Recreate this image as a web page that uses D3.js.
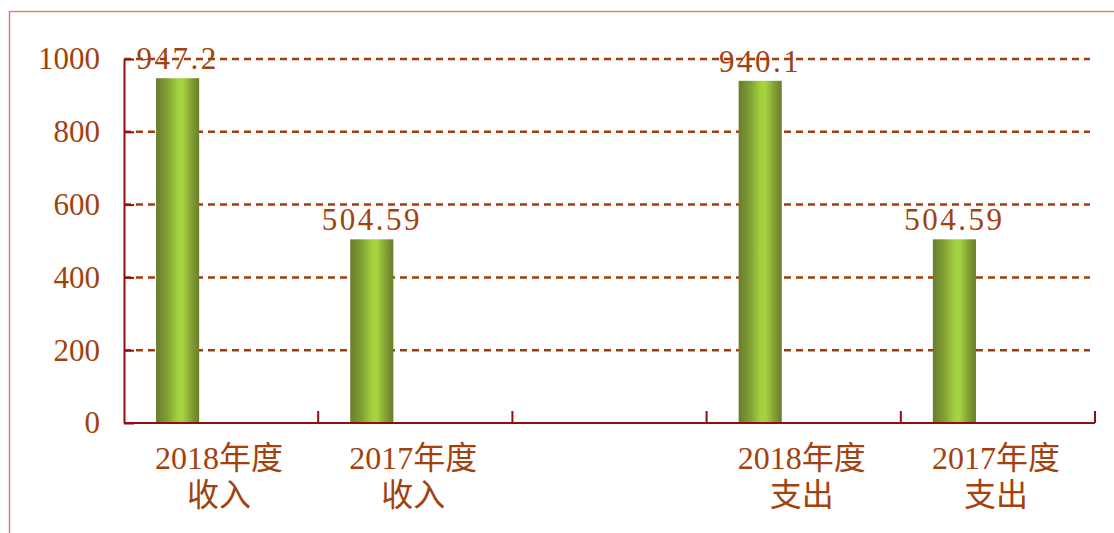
<!DOCTYPE html>
<html>
<head>
<meta charset="utf-8">
<script src="https://cdn.jsdelivr.net/npm/d3@7"></script>
<style>
  body { margin: 0; background: #fff; }
  svg { display: block; }
</style>
</head>
<body>
<div id="chart"></div>
<script>
// data
const categories = ["2018年度\n收入", "2017年度\n收入", "", "2018年度\n支出", "2017年度\n支出"];
const values = [947.2, 504.59, null, 940.1, 504.59];
const yTicks = [0, 200, 400, 600, 800, 1000];

const width = 1114, height = 533;
const margin = { top: 59, right: 19, bottom: 110, left: 124 };
const textColor = "#a3410d";
const axisColor = "#8e0f0f";
const serif = "'Liberation Serif', 'Times New Roman', 'Noto Sans CJK SC', serif";

const svg = d3.select("#chart").append("svg")
  .attr("width", width)
  .attr("height", height);

// outer frame
svg.append("rect")
  .attr("x", 9.5).attr("y", 11.5)
  .attr("width", 1300).attr("height", 700)
  .attr("fill", "none")
  .attr("stroke", "#c98b6f")
  .attr("stroke-width", 1.5);

const x = d3.scaleBand()
  .domain(d3.range(categories.length))
  .range([margin.left, width - margin.right]);

const y = d3.scaleLinear()
  .domain([0, 1000])
  .range([height - margin.bottom, margin.top]);

// bar gradient
const grad = svg.append("defs").append("linearGradient")
  .attr("id", "barGrad")
  .attr("x1", "0%").attr("x2", "100%").attr("y1", "0%").attr("y2", "0%");
[[0, "#687d2c"], [0.25, "#7f9d33"], [0.5, "#a3cf3e"], [0.62, "#a6d440"], [0.8, "#86a535"], [1, "#687d2c"]]
  .forEach(s => grad.append("stop").attr("offset", s[0]).attr("stop-color", s[1]));

// gridlines
svg.append("g")
  .selectAll("line")
  .data(yTicks.filter(d => d > 0))
  .join("line")
    .attr("x1", margin.left).attr("x2", width - margin.right - 5)
    .attr("y1", d => y(d)).attr("y2", d => y(d))
    .attr("stroke", "#a23e0b")
    .attr("stroke-width", 2.5)
    .attr("stroke-dasharray", "7,5");

// bars
const bw = x.bandwidth();
const bars = categories.map((c, i) => ({ i, v: values[i] })).filter(d => d.v != null);

svg.append("g")
  .selectAll("rect")
  .data(bars)
  .join("rect")
    .attr("x", d => x(d.i) + bw * 0.165)
    .attr("width", bw * 0.222)
    .attr("y", d => y(d.v))
    .attr("height", d => y(0) - y(d.v))
    .attr("fill", "url(#barGrad)");

// value labels
svg.append("g")
  .selectAll("text")
  .data(bars)
  .join("text")
    .attr("x", d => x(d.i) + bw * 0.165 + bw * 0.111)
    .attr("y", d => y(d.v) - 9)
    .attr("text-anchor", "middle")
    .attr("fill", textColor)
    .style("font-family", serif)
    .style("font-size", "31px")
    .style("letter-spacing", "2.5px")
    .text(d => String(d.v));

// y axis
const yAxis = svg.append("g")
  .attr("transform", `translate(${margin.left},0)`)
  .call(d3.axisLeft(y).tickValues(yTicks).tickFormat(d3.format("d"))
    .tickSizeInner(-10).tickSizeOuter(0).tickPadding(24));
yAxis.select(".domain").attr("stroke", axisColor).attr("stroke-width", 2);
yAxis.selectAll(".tick line").attr("stroke", axisColor).attr("stroke-width", 2);
yAxis.selectAll(".tick text")
  .attr("fill", textColor)
  .style("font-family", serif)
  .style("font-size", "31px");

// x axis
const xAxis = svg.append("g");
xAxis.append("line")
  .attr("x1", margin.left).attr("x2", width - margin.right)
  .attr("y1", y(0)).attr("y2", y(0))
  .attr("stroke", axisColor).attr("stroke-width", 2);
const bounds = categories.map((c, i) => x(i) + bw);
xAxis.selectAll("line.tick")
  .data(bounds)
  .join("line")
    .attr("class", "tick")
    .attr("x1", d => d).attr("x2", d => d)
    .attr("y1", y(0)).attr("y2", y(0) - 12)
    .attr("stroke", axisColor).attr("stroke-width", 2);

const catText = xAxis.selectAll("text")
  .data(categories.map((c, i) => ({ i, lines: c ? c.split("\n") : [] })))
  .join("text")
    .attr("text-anchor", "middle")
    .attr("fill", textColor)
    .style("font-family", serif)
    .style("font-size", "32px");
catText.selectAll("tspan")
  .data(d => d.lines.map((l, k) => ({ l, k, i: d.i })))
  .join("tspan")
    .attr("x", d => x(d.i) + bw / 2 - 2)
    .attr("y", d => y(0) + 46 + d.k * 37)
    .text(d => d.l);
</script>
</body>
</html>
